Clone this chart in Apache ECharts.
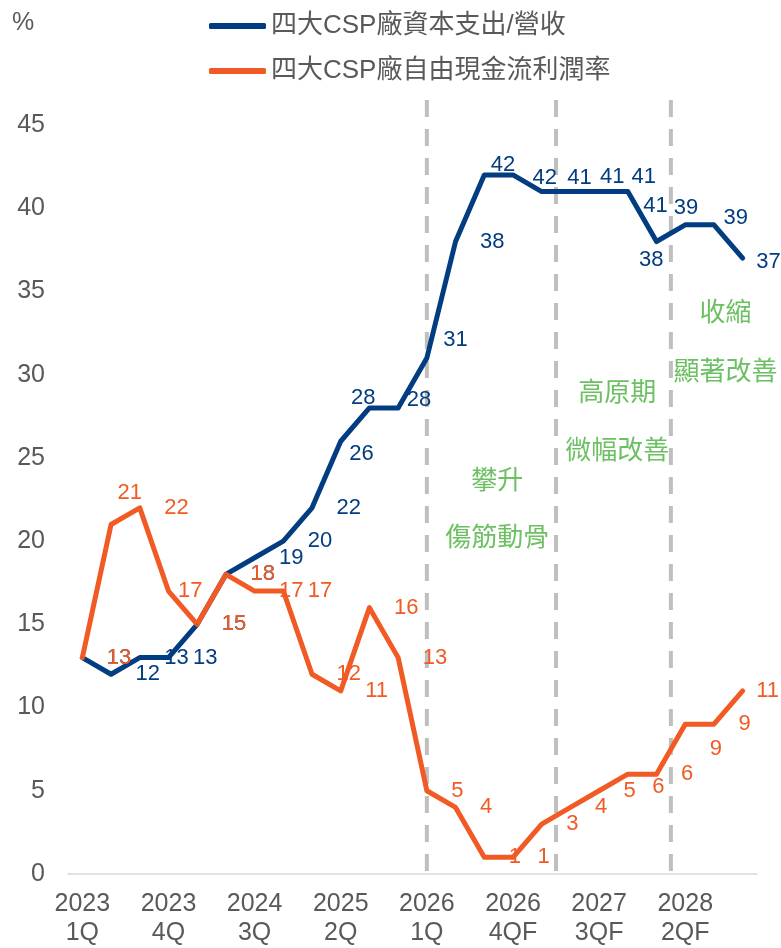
<!DOCTYPE html>
<html>
<head>
<meta charset="utf-8">
<script src="https://cdn.jsdelivr.net/npm/echarts@6/dist/echarts.min.js"></script>
<style>
html,body{margin:0;padding:0;background:#fff;}
#chart{width:781px;height:948px;}
</style>
</head>
<body>
<div id="chart"></div>
<script>
// ---- data ----
const categories = ['2023\n1Q','2023\n2Q','2023\n3Q','2023\n4Q','2024\n1Q','2024\n2Q','2024\n3Q','2024\n4Q',
  '2025\n1Q','2025\n2Q','2025\n3Q','2025\n4Q','2026\n1Q','2026\n2QF','2026\n3QF','2026\n4QF',
  '2027\n1QF','2027\n2QF','2027\n3QF','2027\n4QF','2028\n1QF','2028\n2QF','2028\n3QF','2028\n4QF'];
const capexRatio = [13,12,13,13,15,18,19,20,22,26,28,28,31,38,42,42,41,41,41,41,38,39,39,37];
const fcfMargin  = [13,21,22,17,15,18,17,17,12,11,16,13,5,4,1,1,3,4,5,6,6,9,9,11];
const seriesNames = ['四大CSP廠資本支出/營收','四大CSP廠自由現金流利潤率'];
const phaseDividers = [12, 16.5, 20.5];
const phaseNotes = [['攀升','傷筋動骨'],['高原期','微幅改善'],['收縮','顯著改善']];
const yMin = 0, yMax = 45, yStep = 5;

// ---- label nudges (layout only) ----
const capexLabelShift = {9:[-16,13],10:[-43,-10],11:[-16,-8],12:[-8,-18],14:[-18,-10],15:[-5,3],
  16:[1,-14],17:[5,-15],18:[8,-15],19:[-9,14],20:[-42,18],21:[-36,-17],22:[-15,-7],23:[-11,4]};
const fcfLabelShift = {1:[-18,-32],3:[-15,0],19:[0,13],21:[0,25],23:[-11,0]};
// note anchors: [category position, y of first line, y of second line]
const notePos = [[14.45, 23.7, 20.3], [18.63, 29.0, 25.5], [22.4, 33.8, 30.3]];

const BLUE = '#023C81', ORANGE = '#F15A24', GREY = '#595959', GREEN = '#6CC062';
const LATIN = "'Liberation Sans', 'Noto Sans CJK TC', sans-serif";
const CJK = "'Noto Sans CJK TC', sans-serif";

function buildData(values, shifts) {
  return values.map((v, i) => shifts[i] ? { value: v, label: { offset: shifts[i] } } : v);
}
function lineSeries(name, values, color, shifts) {
  return {
    name: name, type: 'line', data: buildData(values, shifts),
    symbol: 'circle', symbolSize: 1, showSymbol: true,
    itemStyle: { color: color },
    lineStyle: { color: color, width: 5, cap: 'round', join: 'round' },
    label: { show: true, position: 'right', distance: 24, color: color,
      fontSize: 22, fontFamily: LATIN },
    emphasis: { disabled: true },
    animation: false
  };
}

const chart = echarts.init(document.getElementById('chart'), null, { renderer: 'canvas' });
chart.setOption({
  animation: false,
  backgroundColor: '#fff',
  grid: { left: 68, right: 24, top: 125, bottom: 73 },
  legend: {
    orient: 'vertical', left: 204, top: 8, itemWidth: 57, itemHeight: 6, itemGap: 19,
    icon: 'roundRect',
    textStyle: { fontSize: 26, color: GREY, fontFamily: LATIN },
    data: seriesNames
  },
  xAxis: {
    type: 'category', data: categories, boundaryGap: true,
    axisLine: { lineStyle: { color: '#D9D9D9', width: 1.5 } },
    axisTick: { show: false },
    axisLabel: { interval: 2, fontSize: 25, lineHeight: 29, color: GREY, margin: 16, fontFamily: LATIN }
  },
  yAxis: {
    type: 'value', min: yMin, max: yMax, interval: yStep,
    axisLine: { show: false }, axisTick: { show: false }, splitLine: { show: false },
    axisLabel: { fontSize: 25, color: GREY, margin: 23, fontFamily: LATIN }
  },
  series: [
    lineSeries(seriesNames[0], capexRatio, BLUE, capexLabelShift),
    lineSeries(seriesNames[1], fcfMargin, ORANGE, fcfLabelShift)
  ]
});

// ---- dividers and phase notes, placed via the axis scales ----
function xAt(idx) {
  const i0 = Math.floor(idx), f = idx - i0;
  const p0 = chart.convertToPixel({ xAxisIndex: 0 }, i0);
  if (f === 0) return p0;
  const p1 = chart.convertToPixel({ xAxisIndex: 0 }, i0 + 1);
  return p0 + (p1 - p0) * f;
}
const yBottom = chart.convertToPixel({ yAxisIndex: 0 }, 0);
const yTop = chart.convertToPixel({ yAxisIndex: 0 }, 46.5);
const graphics = [];
phaseDividers.forEach(d => {
  const x = xAt(d);
  graphics.push({ type: 'line', silent: true, z: 1,
    shape: { x1: x, y1: yTop, x2: x, y2: yBottom },
    style: { stroke: '#BFBFBF', lineWidth: 4, lineDash: [17, 12] } });
});
phaseNotes.forEach((pair, k) => {
  const x = xAt(notePos[k][0]);
  pair.forEach((t, j) => {
    graphics.push({ type: 'text', silent: true, z: 5,
      x: x, y: chart.convertToPixel({ yAxisIndex: 0 }, notePos[k][1 + j]),
      style: { text: t, fill: GREEN, fontSize: 26, fontFamily: CJK, align: 'center', verticalAlign: 'middle' } });
  });
});
graphics.push({ type: 'text', silent: true, x: 23, y: 23,
  style: { text: '%', fill: GREY, fontSize: 25, fontFamily: LATIN, align: 'center', verticalAlign: 'middle' } });
chart.setOption({ graphic: graphics });
</script>
</body>
</html>
